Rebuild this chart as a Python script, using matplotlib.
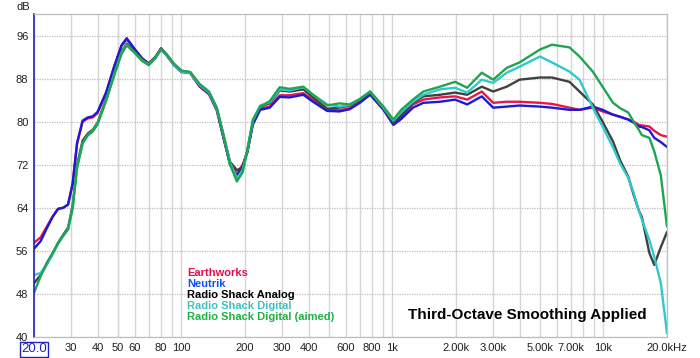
import matplotlib

matplotlib.use("Agg")
import matplotlib.pyplot as plt
from matplotlib.ticker import FixedLocator, NullFormatter

plt.rcParams["font.family"] = ["Liberation Sans", "DejaVu Sans"]

# Frequency grid (Hz) the curves were read at.
freq = [
    20, 21.5, 23, 24.5, 26, 27.5, 29, 30.5, 32, 34, 36, 38, 40, 44, 48, 52,
    55, 60, 65, 70, 75, 80, 85, 92, 100, 110, 122, 135, 147, 157, 170, 183,
    195, 205, 218, 236, 262, 292, 325, 378, 420, 490, 560, 626, 700, 784,
    906, 1010, 1100, 1250, 1400, 1680, 1980, 2260, 2650, 3000, 3480, 4000,
    5000, 5700, 6900, 7700, 8900, 9900, 11100, 12000, 13100, 13900, 14700,
    15200, 16500, 17400, 18700, 20000,
]

earthworks = [
    57.5, 58.5, 60.5, 62.4, 63.8, 64.0, 64.6, 68.5, 76.0, 80.0, 80.6, 80.8,
    81.6, 85.4, 90.2, 94.1, 95.3, 93.4, 91.7, 90.8, 91.8, 93.5, 92.3, 90.5,
    89.2, 89.0, 86.5, 85.1, 82.1, 77.5, 72.0, 70.3, 72.0, 74.3, 79.6, 82.4,
    82.8, 84.9, 84.9, 85.3, 84.0, 82.2, 82.1, 82.5, 83.7, 85.2, 82.4, 79.6,
    80.8, 83.2, 84.1, 84.5, 84.7, 84.1, 85.6, 83.5, 83.7, 83.7, 83.5, 83.3,
    82.6, 82.2, 82.6, 81.9, 81.3, 80.9, 80.4, 80.0, 79.4, 79.3, 79.1, 78.3,
    77.5, 77.2,
]
neutrik = [
    56.4, 57.8, 60.2, 62.3, 63.8, 64.0, 64.6, 68.5, 76.0, 80.2, 80.8, 81.0,
    81.8, 85.5, 90.3, 94.2, 95.5, 93.5, 91.8, 90.8, 91.8, 93.6, 92.4, 90.6,
    89.3, 89.1, 86.6, 85.2, 82.2, 77.5, 72.0, 69.8, 71.8, 74.3, 79.5, 82.2,
    82.6, 84.6, 84.5, 85.0, 83.7, 82.0, 81.9, 82.3, 83.5, 85.0, 82.2, 79.4,
    80.5, 82.6, 83.5, 83.7, 84.1, 83.2, 84.7, 82.6, 82.8, 83.0, 82.8, 82.6,
    82.2, 82.2, 82.8, 82.2, 81.3, 80.9, 80.4, 79.8, 79.1, 79.0, 78.4, 77.0,
    76.2, 75.3,
]
rs_analog = [
    50.0, 51.5, 53.5, 55.5, 57.5, 59.0, 60.3, 64.5, 72.0, 76.5, 77.8, 78.5,
    79.8, 84.3, 89.0, 93.0, 94.5, 93.0, 91.6, 90.8, 92.0, 93.6, 92.5, 90.7,
    89.4, 89.2, 86.8, 85.4, 82.5, 78.0, 72.5, 71.0, 71.5, 74.5, 80.0, 82.8,
    83.4, 85.8, 85.6, 86.0, 84.5, 82.4, 82.6, 83.0, 84.0, 85.4, 82.4, 79.8,
    81.2, 83.5, 84.7, 85.0, 85.4, 85.0, 86.5, 85.6, 86.5, 87.8, 88.2, 88.2,
    87.4, 85.6, 83.2, 80.0, 76.3, 72.8, 69.8, 66.4, 63.5, 62.3, 55.6, 53.4,
    56.7, 59.5,
]
rs_digital = [
    51.5, 51.9, 53.5, 55.3, 57.3, 58.8, 60.0, 64.0, 71.5, 76.0, 77.5, 78.3,
    79.6, 84.0, 88.8, 92.8, 94.3, 92.8, 91.4, 90.6, 91.8, 93.4, 92.4, 90.6,
    89.3, 89.0, 86.8, 85.4, 82.4, 78.0, 72.3, 69.5, 71.0, 74.6, 80.2, 83.0,
    83.6, 86.0, 85.8, 86.4, 85.0, 83.2, 82.8, 83.1, 84.2, 85.6, 82.6, 80.2,
    81.8, 83.7, 85.0, 86.0, 86.3, 85.4, 87.8, 87.2, 89.1, 90.2, 92.1, 91.0,
    89.3, 87.8, 82.6, 79.1, 75.2, 72.2, 69.6, 66.8, 63.5, 61.8, 58.0, 54.9,
    50.0, 40.7,
]
rs_digital_aimed = [
    48.2, 51.3, 53.8, 55.6, 57.4, 58.8, 60.0, 64.0, 71.5, 76.0, 77.5, 78.2,
    79.5, 84.0, 88.6, 92.6, 94.2, 92.8, 91.3, 90.5, 91.8, 93.4, 92.5, 90.8,
    89.5, 89.2, 87.0, 85.6, 82.6, 78.0, 72.0, 68.9, 70.6, 74.6, 80.4, 82.8,
    83.8, 86.4, 86.1, 86.5, 85.0, 83.0, 83.4, 83.2, 84.2, 85.6, 82.8, 80.4,
    82.2, 84.1, 85.6, 86.5, 87.4, 86.3, 89.1, 87.8, 90.0, 91.0, 93.4, 94.3,
    93.8, 92.1, 89.3, 86.5, 83.5, 82.5, 81.7, 80.0, 78.5, 77.5, 77.0, 74.5,
    70.0, 60.5,
]

series = [
    ("Earthworks", earthworks, "#e8174a", "#e0104a"),
    ("Neutrik", neutrik, "#1a1ad8", "#1050f0"),
    ("Radio Shack Analog", rs_analog, "#404040", "#000000"),
    ("Radio Shack Digital", rs_digital, "#30c8d0", "#40c0c0"),
    ("Radio Shack Digital (aimed)", rs_digital_aimed, "#1fa552", "#20b040"),
]

x_ticks = [20, 30, 40, 50, 60, 80, 100, 200, 300, 400, 600, 800,
           1000, 2000, 3000, 5000, 7000, 10000, 20000]
x_labels = ["", "30", "40", "50", "60", "80", "100", "200", "300", "400",
            "600", "800", "1k", "2.00k", "3.00k", "5.00k", "7.00k", "10k",
            "20.0kHz"]
x_minor = [70, 90, 500, 700, 900, 4000, 6000, 8000, 9000]
y_ticks = [40, 48, 56, 64, 72, 80, 88, 96]

fig = plt.figure(figsize=(7.0, 3.58), dpi=100)
ax = fig.add_axes([34 / 700, 1 - 337 / 358, 633 / 700, 323 / 358])

for name, vals, lc, tc in series:
    ax.plot(freq, vals, color=lc, lw=1.7, solid_capstyle="round",
            solid_joinstyle="round")

ax.set_xscale("log")
ax.set_xlim(20, 20000)
ax.set_ylim(40, 100)

ax.xaxis.set_major_locator(FixedLocator(x_ticks))
ax.set_xticklabels(x_labels)
ax.xaxis.set_minor_locator(FixedLocator(x_minor))
ax.xaxis.set_minor_formatter(NullFormatter())
ax.set_yticks(y_ticks)

ax.tick_params(axis="both", which="both", length=0, labelsize=8,
               colors="#202020")
ax.tick_params(axis="x", pad=4)
ax.tick_params(axis="y", pad=4)

ax.grid(True, axis="x", which="both", color="#d6d6d2", lw=1.0, ls="-")
ax.grid(True, axis="y", which="major", color="#bdbdbd", lw=0.9, ls=(0, (1, 1)))
ax.axvline(50, color="#ead0ea", lw=1.0, zorder=0.5)
ax.set_axisbelow(True)

for side in ("top", "right", "bottom"):
    ax.spines[side].set_color("#bdbdbd")
    ax.spines[side].set_linestyle((0, (1, 1)))
    ax.spines[side].set_linewidth(0.9)
ax.spines["left"].set_color("#2020c0")
ax.spines["left"].set_linewidth(1.2)

# "dB" unit label above the y axis, boxed start frequency
fig.text(30 / 700, 1 - 7 / 358, "dB", ha="right", va="center", fontsize=8,
         color="#202020")
fig.text(34 / 700, 1 - 349.5 / 358, "20.0", ha="center", va="center",
         fontsize=9.5, color="#2020c0",
         bbox=dict(boxstyle="square,pad=0.1", fc="white", ec="#2020c0", lw=1))

# Legend as coloured text lines
for i, (name, vals, lc, tc) in enumerate(series):
    fig.text(187 / 700, 1 - (272.5 + 11.2 * i) / 358, name, ha="left",
             va="center", fontsize=8, fontweight="bold", color=tc)

fig.text(408 / 700, 1 - 315 / 358, "Third-Octave Smoothing Applied",
         ha="left", va="center", fontsize=11, fontweight="bold",
         color="#000000")

fig.savefig("out.png", dpi=100, facecolor="white")
